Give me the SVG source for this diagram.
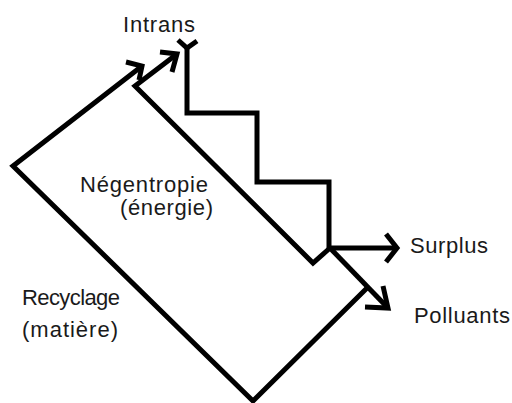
<svg xmlns="http://www.w3.org/2000/svg" width="512" height="403" viewBox="0 0 512 403">
<style>
.ln{fill:none;stroke:#000;stroke-width:5;stroke-linecap:butt;stroke-linejoin:miter}
.t{font-family:"Liberation Sans",Arial,sans-serif;font-size:22px;fill:#1a1a1a}
</style>
<rect width="512" height="403" fill="#fff"/>
<g id="connectors">
<path class="ln" d="M142,66 L13,166 L253,401 L367,288"/>
<path class="ln" d="M126,62 L142,66 L139,80"/>
<path class="ln" d="M177,54 L135,86 L313,263 L330,248"/>
<path class="ln" d="M160,52 L177,54 L172,72"/>
<path class="ln" d="M187,48 L187,113 L257,113 L257,182 L329,182 L329,250"/>
<path class="ln" d="M178,40 L187,48 L197,41"/>
<path class="ln" d="M330,248 L397,248"/>
<path class="ln" d="M386,234 L397,248 L386,262"/>
<path class="ln" d="M330,248 L388,308"/>
<path class="ln" d="M383,286 L388,308 L365,307"/>
</g>
<g id="intrans"><text class="t" x="123" y="32" textLength="72">Intrans</text></g>
<g id="negentropie"><text class="t" x="80" y="192" textLength="128">Négentropie</text><text class="t" x="120" y="215" textLength="93">(énergie)</text></g>
<g id="recyclage"><text class="t" x="22" y="305" textLength="98">Recyclage</text><text class="t" x="22" y="337" textLength="96">(matière)</text></g>
<g id="surplus"><text class="t" x="410" y="253" textLength="78">Surplus</text></g>
<g id="polluants"><text class="t" x="414" y="323" textLength="96">Polluants</text></g>
</svg>
